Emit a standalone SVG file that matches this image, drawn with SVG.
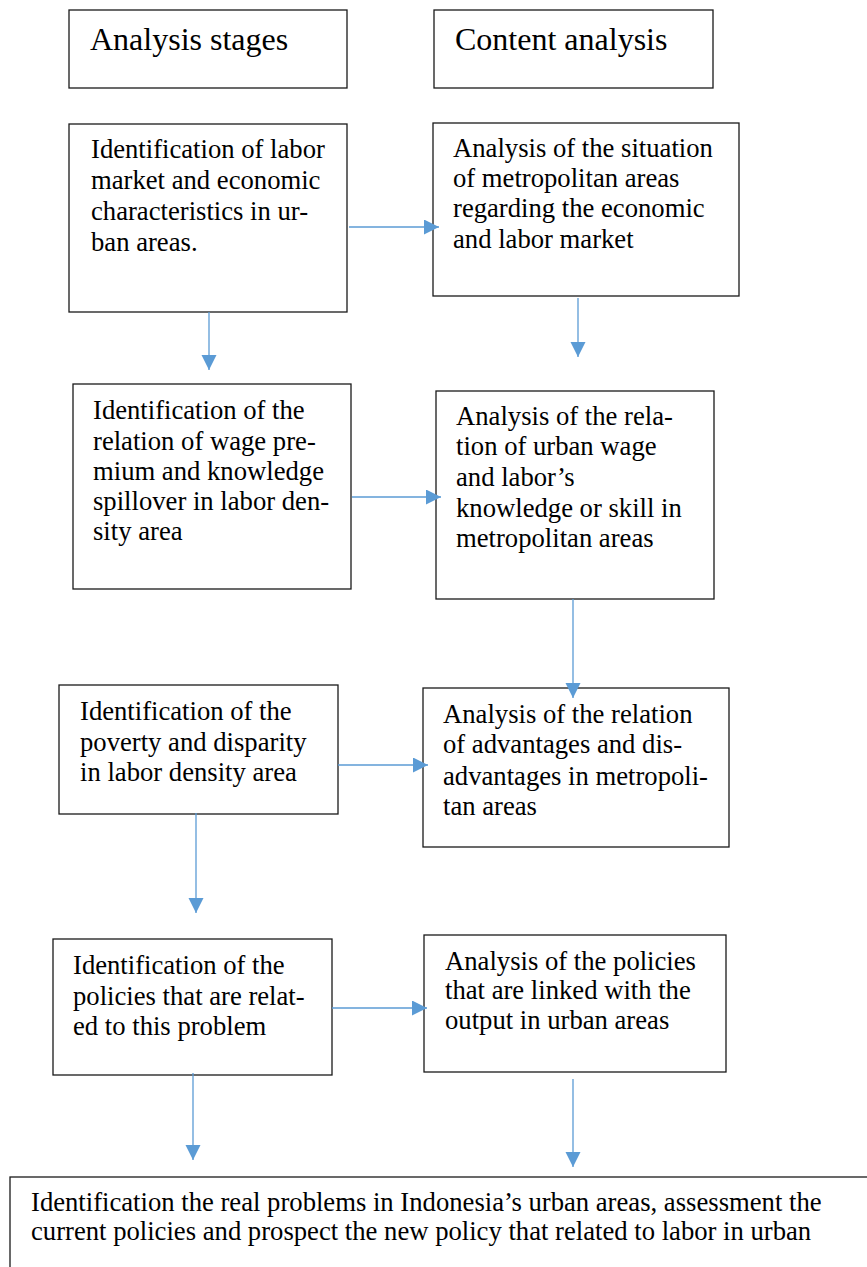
<svg xmlns="http://www.w3.org/2000/svg" width="867" height="1267" viewBox="0 0 867 1267">
<style>
.box{fill:#fff;stroke:#1a1a1a;stroke-width:1.3}
.t{font-family:"Liberation Serif","Times New Roman",serif;font-size:26.67px;fill:#000}
.h{font-family:"Liberation Serif","Times New Roman",serif;font-size:32px;fill:#000}
.c{stroke:#5B9BD5;stroke-width:1.3;fill:none;marker-end:url(#ah)}
</style>
<defs>
<marker id="ah" markerUnits="userSpaceOnUse" markerWidth="16" markerHeight="16" refX="15" refY="7.5" orient="auto">
<path d="M0,0 L15,7.5 L0,15 z" fill="#5B9BD5"/>
</marker>
</defs>
<rect width="867" height="1267" fill="#fff"/>
<g id="n-stages">
<rect class="box" x="69" y="10" width="278" height="78"/>
<text class="h" x="90" y="50">Analysis stages</text>
</g>
<g id="n-content">
<rect class="box" x="434" y="10" width="279" height="78"/>
<text class="h" x="455" y="50">Content analysis</text>
</g>
<g id="n-id1">
<rect class="box" x="69" y="124" width="278" height="188"/>
<text class="t"><tspan x="91" y="158">Identification of labor</tspan><tspan x="91" y="189">market and economic</tspan><tspan x="91" y="220">characteristics in ur-</tspan><tspan x="91" y="251">ban areas.</tspan></text>
</g>
<g id="n-an1">
<rect class="box" x="433" y="123" width="306" height="173"/>
<text class="t"><tspan x="453" y="157">Analysis of the situation</tspan><tspan x="453" y="187">of metropolitan areas</tspan><tspan x="453" y="217">regarding the economic</tspan><tspan x="453" y="248">and labor market</tspan></text>
</g>
<g id="n-id2">
<rect class="box" x="73" y="384" width="278" height="205"/>
<text class="t"><tspan x="93" y="419">Identification of the</tspan><tspan x="93" y="450">relation of wage pre-</tspan><tspan x="93" y="480">mium and knowledge</tspan><tspan x="93" y="510">spillover in labor den-</tspan><tspan x="93" y="540">sity area</tspan></text>
</g>
<g id="n-an2">
<rect class="box" x="436" y="391" width="278" height="208"/>
<text class="t"><tspan x="456" y="425">Analysis of the rela-</tspan><tspan x="456" y="455">tion of urban wage</tspan><tspan x="456" y="486">and labor’s</tspan><tspan x="456" y="517">knowledge or skill in</tspan><tspan x="456" y="547">metropolitan areas</tspan></text>
</g>
<g id="n-id3">
<rect class="box" x="59" y="685" width="279" height="129"/>
<text class="t"><tspan x="80" y="720">Identification of the</tspan><tspan x="80" y="751">poverty and disparity</tspan><tspan x="80" y="781">in labor density area</tspan></text>
</g>
<g id="n-an3">
<rect class="box" x="423" y="688" width="306" height="159"/>
<text class="t"><tspan x="443" y="723">Analysis of the relation</tspan><tspan x="443" y="753">of advantages and dis-</tspan><tspan x="443" y="785">advantages in metropoli-</tspan><tspan x="443" y="815">tan areas</tspan></text>
</g>
<g id="n-id4">
<rect class="box" x="53" y="939" width="279" height="136"/>
<text class="t"><tspan x="73" y="974">Identification of the</tspan><tspan x="73" y="1005">policies that are relat-</tspan><tspan x="73" y="1035">ed to this problem</tspan></text>
</g>
<g id="n-an4">
<rect class="box" x="424" y="935" width="302" height="137"/>
<text class="t"><tspan x="445" y="970">Analysis of the policies</tspan><tspan x="445" y="999">that are linked with the</tspan><tspan x="445" y="1029">output in urban areas</tspan></text>
</g>
<g id="n-result">
<rect class="box" x="10" y="1177" width="880" height="120"/>
<text class="t"><tspan x="31" y="1211">Identification the real problems in Indonesia’s urban areas, assessment the</tspan><tspan x="31" y="1240">current policies and prospect the new policy that related to labor in urban</tspan></text>
</g>
<g id="connectors">
<path class="c" d="M349,227 H439"/>
<path class="c" d="M209,312 V370"/>
<path class="c" d="M578,298 V357"/>
<path class="c" d="M352,497 H441"/>
<path class="c" d="M573,599 V698"/>
<path class="c" d="M338,765 H428"/>
<path class="c" d="M196,813 V913"/>
<path class="c" d="M332,1008 H427"/>
<path class="c" d="M193,1073 V1160"/>
<path class="c" d="M573,1079 V1167"/>
</g>
</svg>
